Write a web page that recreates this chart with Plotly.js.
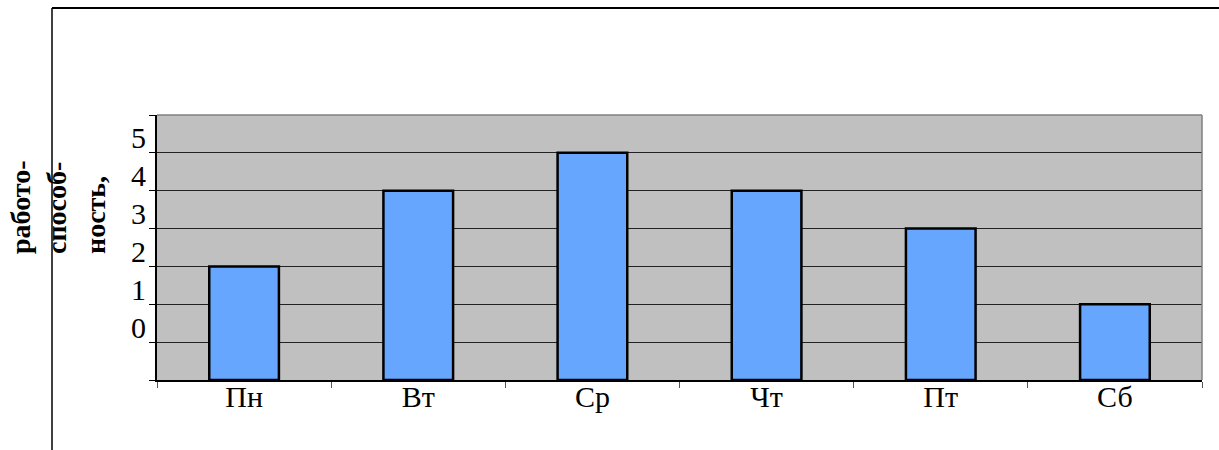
<!DOCTYPE html>
<html>
<head>
<meta charset="utf-8">
<script src="https://cdn.plot.ly/plotly-3.0.1.min.js"></script>
<style>
  html, body { margin: 0; padding: 0; background: #ffffff; }
  #chart { width: 1219px; height: 450px; }
</style>
</head>
<body>
<div id="chart"></div>
<script>
// Categories (days of the week)
var days = ["Пн", "Вт", "Ср", "Чт", "Пт", "Сб"];
// Bar heights in axis gridline units, as drawn
var values = [3, 5, 6, 5, 4, 2];
// Y tick positions and their (shifted) labels as printed
var yTickVals = [0, 1, 2, 3, 4, 5, 6, 7];
var yTickText = ["", "0", "1", "2", "3", "4", "5", ""];
// Y-axis title split over three lines
var yTitleLines = ["работо-", "способ-", "ность,"];

var serif = "'Liberation Serif'";

var trace = {
  type: "bar",
  x: days,
  y: values,
  marker: { color: "rgb(102,166,255)", line: { color: "#000000", width: 2.5 } },
  width: 0.4,
  hoverinfo: "x+y"
};

var titleX = [20, 56, 95];
var L = 157, R = 17, T = 115, B = 70;
var pw = 1219 - L - R, ph = 450 - T - B;
function px2x(p) { return (p - L) / pw; }
function py2y(p) { return (450 - B - p) / ph; }

var annotations = yTitleLines.map(function (s, i) {
  return {
    text: "<b>" + s + "</b>",
    xref: "paper", yref: "paper",
    x: px2x(titleX[i]), y: py2y(256),
    xanchor: "center", yanchor: "bottom",
    textangle: -90, showarrow: false,
    font: { family: serif, size: 28, color: "#000000", weight: "bold" }
  };
});

var layout = {
  width: 1219, height: 450,
  margin: { l: L, r: R, t: T, b: B, pad: 0 },
  paper_bgcolor: "#ffffff",
  plot_bgcolor: "#c0c0c0",
  showlegend: false,
  bargap: 0.6,
  font: { family: serif, color: "#000000" },
  xaxis: {
    type: "category",
    tickson: "boundaries",
    ticks: "outside", ticklen: 6, tickcolor: "#555555", tickwidth: 1,
    showline: true, linecolor: "#000000", linewidth: 2,
    showgrid: false,
    ticklabelstandoff: -11,
    tickfont: { family: serif, size: 30, color: "#000000" },
    fixedrange: true
  },
  yaxis: {
    range: [0, 7],
    tickvals: yTickVals, ticktext: yTickText,
    ticklabelshift: -15,
    ticklabelstandoff: -3,
    ticks: "outside", ticklen: 6, tickcolor: "#000000", tickwidth: 1,
    showline: true, linecolor: "#000000", linewidth: 2,
    showgrid: true, gridcolor: "#222222", gridwidth: 1,
    zeroline: false,
    tickfont: { family: serif, size: 30, color: "#000000" },
    fixedrange: true
  },
  annotations: annotations,
  shapes: [
    { type: "line", xref: "paper", yref: "paper", x0: 0, x1: 1, y0: 1, y1: 1, line: { color: "#808080", width: 1.5 } },
    { type: "line", xref: "paper", yref: "paper", x0: 1, x1: 1, y0: 0, y1: 1, line: { color: "#808080", width: 1.5 } },
    { type: "line", xref: "paper", yref: "paper", x0: px2x(52), x1: px2x(52), y0: py2y(8), y1: py2y(452), line: { color: "#000000", width: 1.5 } },
    { type: "line", xref: "paper", yref: "paper", x0: px2x(52), x1: px2x(1222), y0: py2y(8), y1: py2y(8), line: { color: "#000000", width: 2 } }
  ]
};

Plotly.newPlot("chart", [trace], layout, { displayModeBar: false, staticPlot: true });
</script>
</body>
</html>
